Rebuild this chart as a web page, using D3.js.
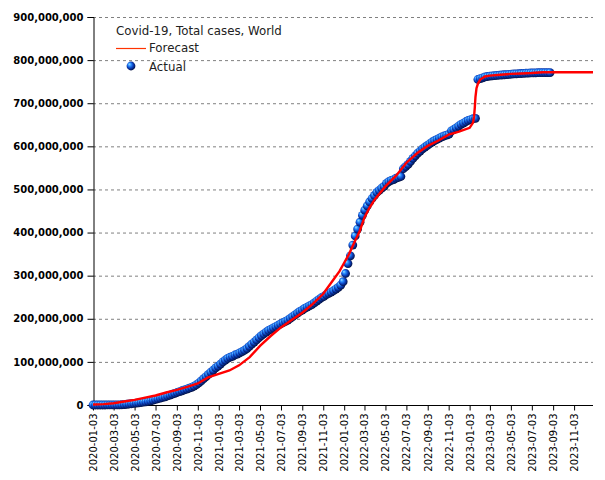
<!DOCTYPE html>
<html><head><meta charset="utf-8">
<script src="https://cdn.jsdelivr.net/npm/d3@7"></script>
<style>body{margin:0;background:#fff}svg{display:block}</style>
</head><body><svg id="c" width="605" height="480"></svg>
<script>
const title = "Covid-19, Total cases, World";
const seriesNames = ["Forecast", "Actual"];
const xTickLabels = ["2020-01-03","2020-03-03","2020-05-03","2020-07-03","2020-09-03","2020-11-03",
  "2021-01-03","2021-03-03","2021-05-03","2021-07-03","2021-09-03","2021-11-03",
  "2022-01-03","2022-03-03","2022-05-03","2022-07-03","2022-09-03","2022-11-03",
  "2023-01-03","2023-03-03","2023-05-03","2023-07-03","2023-09-03","2023-11-03"];
const xDomain = ["2020-01-03", "2023-12-28"];
const yTicks = [0,100e6,200e6,300e6,400e6,500e6,600e6,700e6,800e6,900e6];

// Actual: weekly observations starting at actualStart (values in millions)
const actualStart = "2020-01-03";
const actualValuesM = [
  0,0,0,0,0,0,0.1,0.1,0.1,0.1,0.2,0.3,0.6,1.1,1.7,2.3,2.9,3.6,4.3,5.0,
  5.8,6.6,7.5,8.5,9.6,11.2,13,14.5,16,17.5,19,21,23,25,27,29,31,33,35,37,
  39,41,44,47,51,56,61,66,71,76,81,86,90,95,100,104,108,111,113,116,
  118,121,124,127,131,136,141,146,151,156,161,165,169,173,176,179,182,185,188,191,
  194,197,201,205,209,213,217,220,224,227,230,233,237,241,245,249,252,256,259,262,
  265,269,273,278,286,305,328,346,371,392,408,424,440,452,462,471,479,486,493,498,
  503,507,514,518,521,523,526,528,530,548,553,558,565,572,578,584,589,594,598,602,
  606,610,613,616,619,622,624,626,628,636,639,643,647,651,654,657,660,662,664,665,
  755,757,759,761,762,763,763.5,764,764.5,765,765.5,766,766.5,767,767.5,768,768.3,768.6,769,769.3,
  769.6,770,770.2,770.4,770.6,770.8,771,771,771,771,771
];

// Forecast line (values in millions)
const forecastDates = ["2020-01-03","2020-02-03","2020-03-03","2020-04-03","2020-05-03","2020-06-03",
  "2020-07-03","2020-08-03","2020-09-03","2020-10-03","2020-11-03","2020-12-03","2021-01-03",
  "2021-02-03","2021-03-03","2021-04-03","2021-05-03","2021-06-03","2021-07-03","2021-08-03",
  "2021-09-03","2021-10-03","2021-11-03","2021-12-03","2021-12-20","2022-01-03","2022-01-17",
  "2022-02-03","2022-02-17","2022-03-03","2022-03-17","2022-04-03","2022-05-03","2022-06-03",
  "2022-07-03","2022-08-03","2022-09-03","2022-10-03","2022-11-03","2022-12-03","2023-01-03",
  "2023-01-13","2023-01-16","2023-01-18","2023-01-20","2023-01-23","2023-01-27","2023-02-03",
  "2023-02-17","2023-03-03","2023-04-03","2023-05-03","2023-06-03","2023-07-03","2023-08-03","2023-12-28"];
const forecastValuesM = [1,2,4,8,12,17,
  22,29,35,42,50,64,72,
  80,92,111,137,160,180,197,
  214,234,258,291,310,330,350,
  380,403,435,457,478,507,532,
  562,584,601,613,627,634,643,
  655,670,690,715,735,745,755,
  762,764,766,768,769,770,772,772];

const L = 93, R = 593, T = 17, B = 405;
const parse = d3.utcParse("%Y-%m-%d");
const svg = d3.select("#c");

const x = d3.scaleUtc().domain(xDomain.map(parse)).range([L, R]);
const y = d3.scaleLinear().domain([0, 900e6]).range([B, T]);

const defs = svg.append("defs");
const g = defs.append("radialGradient").attr("id", "ball")
  .attr("cx", "45%").attr("cy", "45%").attr("r", "60%").attr("fx", "30%").attr("fy", "28%");
g.append("stop").attr("offset", "0%").attr("stop-color", "#9fe4ff");
g.append("stop").attr("offset", "30%").attr("stop-color", "#2a8cff");
g.append("stop").attr("offset", "62%").attr("stop-color", "#0a3cb8");
g.append("stop").attr("offset", "100%").attr("stop-color", "#000830");

// grid
svg.append("g").selectAll("line").data(yTicks.filter(v => v > 0)).join("line")
  .attr("x1", L).attr("x2", R).attr("y1", d => y(d) + 0.5).attr("y2", d => y(d) + 0.5)
  .attr("stroke", "#808080").attr("stroke-width", 1).attr("stroke-dasharray", "3,3");

// y axis
const yAxis = svg.append("g").attr("transform", `translate(${L + 0.5},0)`)
  .call(d3.axisLeft(y).tickValues(yTicks).tickSize(6).tickPadding(4).tickFormat(d3.format(",")));
yAxis.select(".domain").attr("stroke", "#000");
yAxis.selectAll("text").attr("font-family", "DejaVu Sans").attr("font-size", 10)
  .attr("font-weight", "bold").attr("fill", "#000");

// x axis
const xAxis = svg.append("g").attr("transform", `translate(0,${B + 0.5})`)
  .call(d3.axisBottom(x).tickValues(xTickLabels.map(parse)).tickSize(5)
    .tickFormat(d3.utcFormat("%Y-%m-%d")));
xAxis.select(".domain").attr("stroke", "#000").attr("d", `M${L},0H${R}`);
xAxis.selectAll("text").attr("font-family", "DejaVu Sans").attr("font-size", 10).attr("fill", "#000")
  .attr("transform", "rotate(-90)").attr("text-anchor", "end")
  .attr("x", -8).attr("y", 0).attr("dy", "0.35em");

// actual dots
const actual = actualValuesM.map((v, i) => ({date: d3.utcDay.offset(parse(actualStart), 7 * i), value: v * 1e6}));
svg.append("g").selectAll("circle").data(actual).join("circle")
  .attr("cx", d => x(d.date)).attr("cy", d => y(d.value)).attr("r", 4.4)
  .attr("fill", "url(#ball)");

// forecast line
const forecast = forecastDates.map((d, i) => ({date: parse(d), value: forecastValuesM[i] * 1e6}));
svg.append("path").datum(forecast)
  .attr("fill", "none").attr("stroke", "#ff0000").attr("stroke-width", 2.4)
  .attr("d", d3.line().x(d => x(d.date)).y(d => y(d.value)));

// legend
const lg = svg.append("g").attr("font-family", "DejaVu Sans").attr("fill", "#222");
lg.append("text").attr("x", 116).attr("y", 35).attr("font-size", 11.8).text(title);
lg.append("line").attr("x1", 116).attr("x2", 146).attr("y1", 48.5).attr("y2", 48.5)
  .attr("stroke", "#ff3300").attr("stroke-width", 1.2);
lg.append("text").attr("x", 149).attr("y", 52).attr("font-size", 11.8).text(seriesNames[0]);
lg.append("circle").attr("cx", 131).attr("cy", 66).attr("r", 4.4).attr("fill", "url(#ball)");
lg.append("text").attr("x", 149).attr("y", 71).attr("font-size", 11.8).text(seriesNames[1]);
</script></body></html>
